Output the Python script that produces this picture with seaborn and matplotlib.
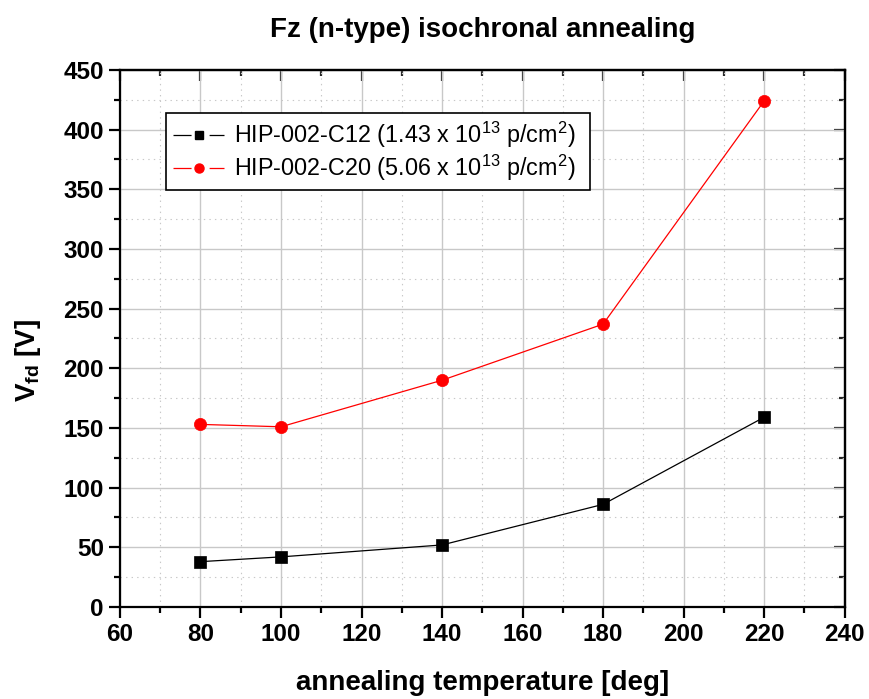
import matplotlib
matplotlib.use("Agg")
import matplotlib.pyplot as plt
from matplotlib.ticker import MultipleLocator
from matplotlib.lines import Line2D
import pandas as pd
import seaborn as sns

# Isochronal annealing measurements
temperature = [80, 100, 140, 180, 220]
vfd_c12 = [38, 42, 52, 86, 159]
vfd_c20 = [153, 151, 190, 237, 424]
label_c12 = r"HIP-002-C12 (1.43 x 10$^{13}$ p/cm$^{2}$)"
label_c20 = r"HIP-002-C20 (5.06 x 10$^{13}$ p/cm$^{2}$)"
x_ticks = [60, 80, 100, 120, 140, 160, 180, 200, 220, 240]
y_ticks = [0, 50, 100, 150, 200, 250, 300, 350, 400, 450]

sns.set_theme(style="white")
plt.rcParams["font.family"] = ["Liberation Sans", "DejaVu Sans"]
plt.rcParams["mathtext.fontset"] = "custom"
plt.rcParams["mathtext.rm"] = "Liberation Sans"
plt.rcParams["mathtext.bf"] = "Liberation Sans:bold"
plt.rcParams["lines.scale_dashes"] = False
plt.rcParams["text.color"] = "black"
plt.rcParams["axes.labelcolor"] = "black"
plt.rcParams["axes.titlecolor"] = "black"

df = pd.DataFrame({
    "T": temperature * 2,
    "V": vfd_c12 + vfd_c20,
    "sample": [label_c12] * len(temperature) + [label_c20] * len(temperature),
})

fig = plt.figure(figsize=(8.69, 6.99), dpi=100)
ax = fig.add_axes([0.138, 0.1316, 0.834, 0.7684])

sns.lineplot(data=df, x="T", y="V", hue="sample", style="sample",
             markers=["s", "o"], dashes=False, palette=["black", "red"],
             linewidth=0.9, markersize=8, legend=False, ax=ax)
for ln in ax.lines:
    ln.set_markeredgecolor(ln.get_color())
    ln.set_markeredgewidth(0.5)
ax.lines[1].set_markersize(8.8)

ax.set_xlim(60, 240)
ax.set_ylim(0, 450)
ax.set_xticks(x_ticks)
ax.set_yticks(y_ticks)
ax.xaxis.set_minor_locator(MultipleLocator(10))
ax.yaxis.set_minor_locator(MultipleLocator(25))

ax.grid(True, which="major", color="#c8c8c8", linewidth=1.0, linestyle="-")
ax.grid(True, which="minor", color="#c8c8c8", linewidth=0.8, linestyle=(0, (1, 3)))
ax.set_axisbelow(True)

for s in ax.spines.values():
    s.set_linewidth(1.6)
    s.set_color("black")

ax.tick_params(which="major", direction="out", length=8, width=1.6,
               labelsize=17.5, pad=3.5, colors="black")
ax.tick_params(which="minor", direction="out", length=4.5, width=1.6, colors="black")
ax.tick_params(which="both", left=True, bottom=True)
for lab in ax.get_xticklabels() + ax.get_yticklabels():
    lab.set_fontweight("bold")

# inward ticks on the top and right edges
top = ax.secondary_xaxis("top")
top.set_xticks(x_ticks)
top.xaxis.set_minor_locator(MultipleLocator(10))
top.tick_params(which="major", direction="in", length=8, width=1.6, labeltop=False)
top.tick_params(which="minor", direction="in", length=4.5, width=1.6, labeltop=False)
top.spines["top"].set_linewidth(1.6)
right = ax.secondary_yaxis("right")
right.set_yticks(y_ticks)
right.yaxis.set_minor_locator(MultipleLocator(25))
right.tick_params(which="major", direction="in", length=8, width=1.6, labelright=False)
right.tick_params(which="minor", direction="in", length=4.5, width=1.6, labelright=False)
right.spines["right"].set_linewidth(1.6)

ax.set_xlabel("annealing temperature [deg]", fontsize=20, fontweight="bold", labelpad=17)
ax.set_ylabel(r"V$_\mathbf{fd}$ [V]", fontsize=20, fontweight="bold")
ax.yaxis.set_label_coords(-0.106, 0.46)
ax.set_title("Fz (n-type) isochronal annealing", fontsize=20, fontweight="bold", pad=24)

# legend keys: short line, gap, marker, gap, short line
dash = (0, (13, 13, 13, 0))
handles = [
    Line2D([], [], color="black", lw=0.9, ls=dash, marker="s", ms=6, mec="black"),
    Line2D([], [], color="red", lw=0.9, ls=dash, marker="o", ms=6.5, mec="red"),
]
leg = ax.legend(handles, [label_c12 + "  ", label_c20 + "  "], loc="upper left",
                bbox_to_anchor=(0.0634, 0.92), borderaxespad=0, fontsize=16.8,
                frameon=True, fancybox=False, edgecolor="black", framealpha=1,
                handlelength=2.2, handletextpad=0.4,
                borderpad=0.3, labelspacing=0.12)
leg.get_frame().set_linewidth(1.2)

fig.savefig("out.png", dpi=100)
